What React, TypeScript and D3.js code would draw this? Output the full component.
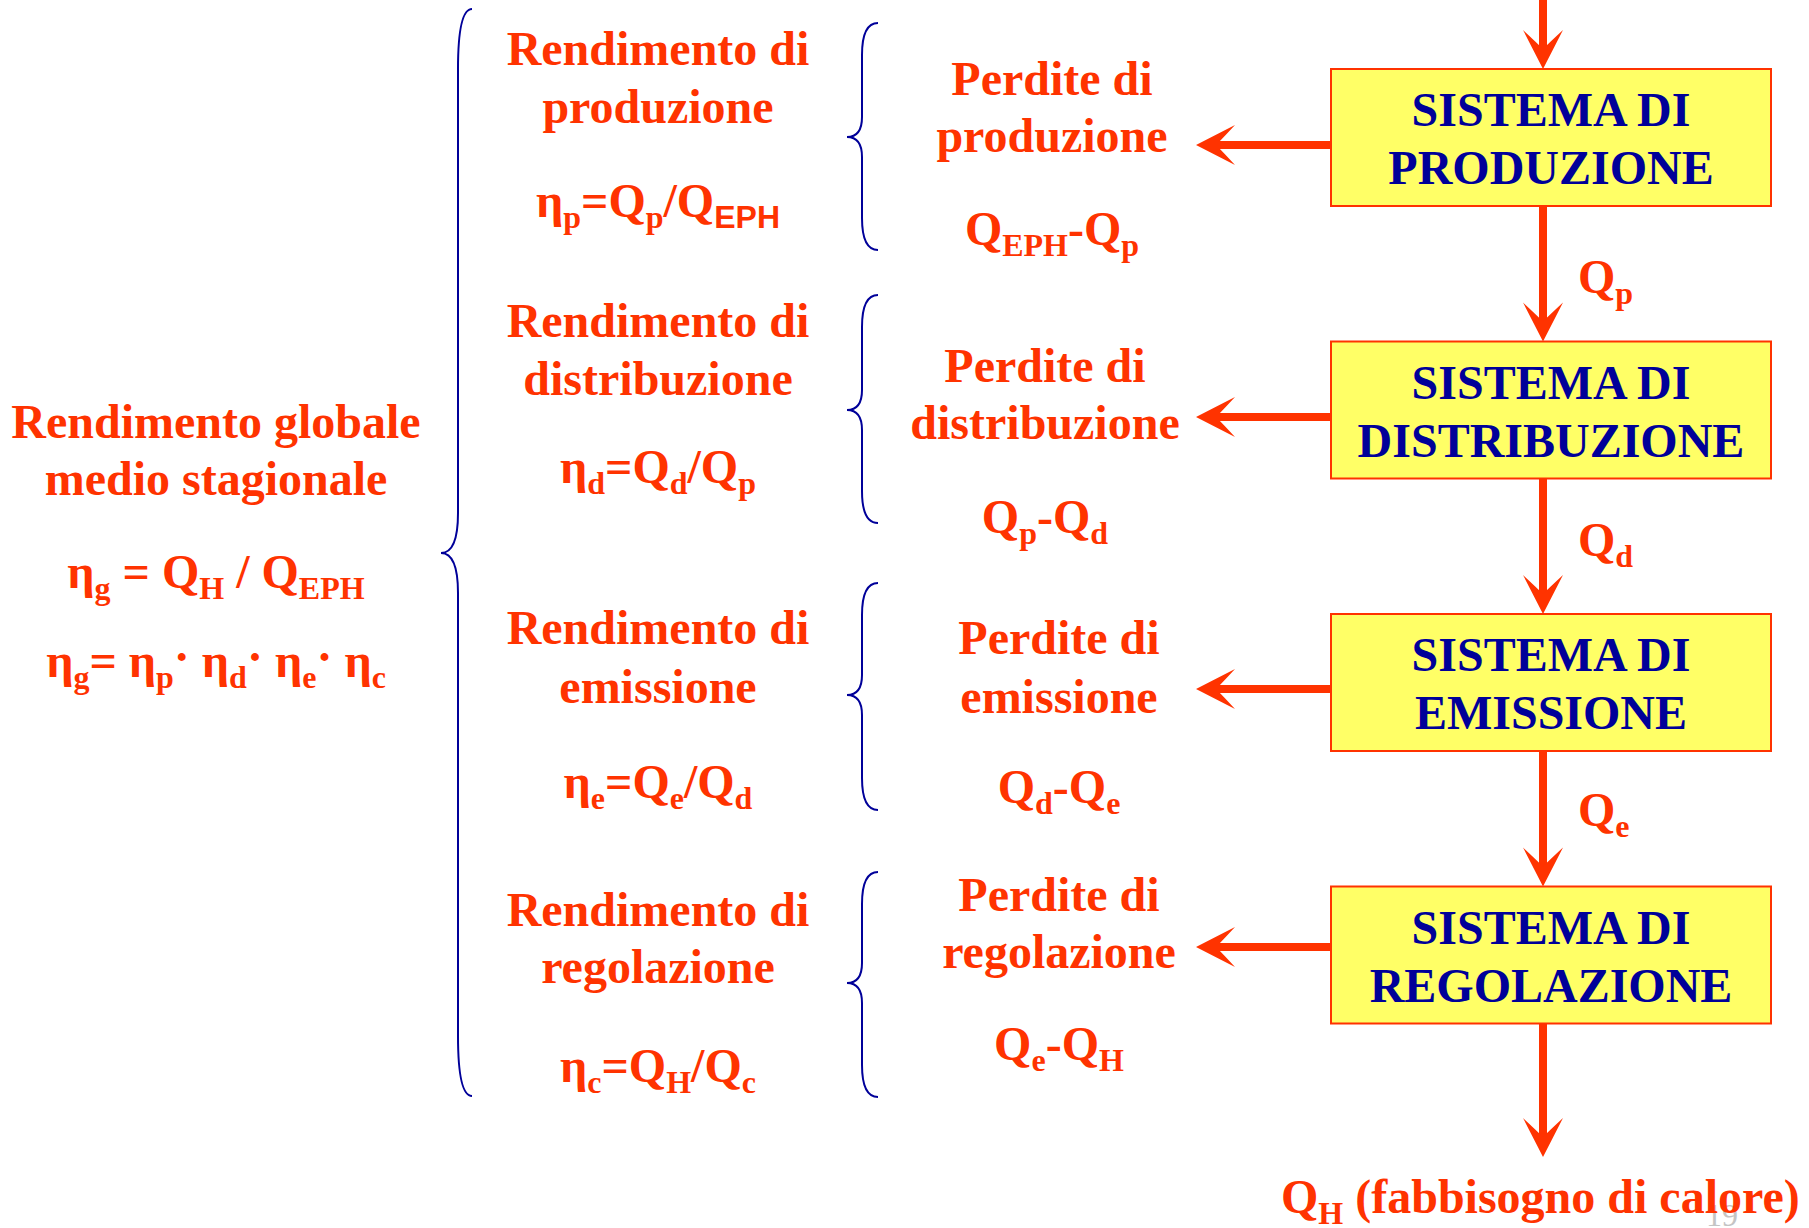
import React from "react";
import * as d3 from "d3";

// ---------- data ----------
const SYSTEM_PREFIX = "SISTEMA DI";
const SYSTEMS = ["PRODUZIONE", "DISTRIBUZIONE", "EMISSIONE", "REGOLAZIONE"];
const EFF_TITLE = "Rendimento di";
const EFF_NAMES = ["produzione", "distribuzione", "emissione", "regolazione"];
const LOSS_TITLE = "Perdite di";
const LOSS_NAMES = ["produzione", "distribuzione", "emissione", "regolazione"];
// segment kinds: n = normal, s = subscript, S = sans subscript, d = raised dot
const EFF_FORMULAS = [
  [["η", "n"], ["p", "s"], ["=Q", "n"], ["p", "s"], ["/Q", "n"], ["EPH", "S"]],
  [["η", "n"], ["d", "s"], ["=Q", "n"], ["d", "s"], ["/Q", "n"], ["p", "s"]],
  [["η", "n"], ["e", "s"], ["=Q", "n"], ["e", "s"], ["/Q", "n"], ["d", "s"]],
  [["η", "n"], ["c", "s"], ["=Q", "n"], ["H", "s"], ["/Q", "n"], ["c", "s"]],
];
const LOSS_FORMULAS = [
  [["Q", "n"], ["EPH", "s"], ["-Q", "n"], ["p", "s"]],
  [["Q", "n"], ["p", "s"], ["-Q", "n"], ["d", "s"]],
  [["Q", "n"], ["d", "s"], ["-Q", "n"], ["e", "s"]],
  [["Q", "n"], ["e", "s"], ["-Q", "n"], ["H", "s"]],
];
const FLOW_LABELS = [
  [["Q", "n"], ["p", "s"]],
  [["Q", "n"], ["d", "s"]],
  [["Q", "n"], ["e", "s"]],
];
const OUTPUT_LABEL = [["Q", "n"], ["H", "s"], [" (fabbisogno di calore)", "n"]];
const GLOBAL_TITLE = ["Rendimento globale", "medio stagionale"];
const GLOBAL_F1 = [["η", "n"], ["g", "s"], [" = Q", "n"], ["H", "s"], [" / Q", "n"], ["EPH", "s"]];
const GLOBAL_F2 = [
  ["η", "n"], ["g", "s"], ["= η", "n"], ["p", "s"], ["·", "d"],
  [" η", "n"], ["d", "s"], ["·", "d"], [" η", "n"], ["e", "s"], ["·", "d"],
  [" η", "n"], ["c", "s"],
];
const PAGE_NUMBER = "19";

// ---------- layout ----------
const W = 1809, H = 1228;
const RED = "#FF3300";
const NAVY = "#000099";
const YELLOW = "#FFFF66";
const SERIF = "'Liberation Serif','Times New Roman',serif";
const SANS = "'Liberation Sans',Arial,sans-serif";
const FS = 48;
const SUB_FS = 32;
const SUB_DY = 11;
const DOT_UP = 4;

const BOX_X0 = 1331, BOX_X1 = 1771, BOX_H = 137;
const SHAFT_X = 1543;
const boxTop = d3.scaleLinear().domain([0, 3]).range([69, 886.5]);
const ARROW_Y = [145, 417, 689, 947];
const LEFT_TIP_X = 1196;
const FLOW_X = 1578;
const FLOW_Y = [293, 556, 826];
const EFF_X = 658;
const EFF_Y = [[65, 123, 217], [337, 395, 483], [644, 703, 798], [926, 983, 1082]];
const LOSS_X = [1052, 1045, 1059, 1059];
const LOSS_Y = [[95, 152, 245], [382, 439, 533], [654, 713, 803], [911, 968, 1060]];
const BRACE_Y = [[23, 137, 250], [295, 410, 523], [583, 695, 810], [872, 983, 1097]];
const GLOBAL_X = 216;
const GLOBAL_Y = [438, 495, 588, 677];

function rich(segs: any[], size = FS) {
  let shift = 0;
  return segs.map(([t, k]: [string, string], i: number) => {
    const target = k === "s" || k === "S" ? SUB_DY : k === "d" ? -DOT_UP : 0;
    const dy = target - shift;
    shift = target;
    const sub = k === "s" || k === "S";
    return (
      <tspan
        key={i}
        dy={dy}
        fontSize={sub ? SUB_FS : size}
        fontFamily={k === "S" ? SANS : undefined}
      >
        {t}
      </tspan>
    );
  });
}

function bracePath(xEnd: number, xStem: number, xPoint: number, y0: number, ym: number, y1: number, rE: number, rM: number) {
  const p = d3.path();
  p.moveTo(xEnd, y0);
  p.quadraticCurveTo(xStem, y0, xStem, y0 + rE);
  p.lineTo(xStem, ym - rM);
  p.quadraticCurveTo(xStem, ym, xPoint, ym);
  p.quadraticCurveTo(xStem, ym, xStem, ym + rM);
  p.lineTo(xStem, y1 - rE);
  p.quadraticCurveTo(xStem, y1, xEnd, y1);
  return p.toString();
}

// arrow head pointing down with tip at (0,0)
function headPath() {
  const p = d3.path();
  p.moveTo(0, 0);
  p.lineTo(-20, -39);
  p.quadraticCurveTo(-7, -27, 0, -20);
  p.quadraticCurveTo(7, -27, 20, -39);
  p.closePath();
  return p.toString();
}
const HEAD = headPath();

export default function App() {
  const textStyle: any = { whiteSpace: "pre" };
  const vSegments: [number, number][] = [];
  vSegments.push([0, boxTop(0)]);
  for (let i = 0; i < 3; i++) vSegments.push([boxTop(i) + BOX_H, boxTop(i + 1)]);
  vSegments.push([boxTop(3) + BOX_H, 1157]);

  return (
    <svg
      width={W}
      height={H}
      style={{ position: "absolute", left: 0, top: 0, display: "block", background: "#fff" }}
      fontFamily={SERIF}
      fontWeight="bold"
    >
      {/* page number */}
      <text x={1722} y={1226} textAnchor="middle" fontSize={32} fontWeight="normal" fill="#c4c4c4">
        {PAGE_NUMBER}
      </text>

      {/* vertical flow shafts + heads */}
      {vSegments.map(([a, b], i) => (
        <g key={"v" + i}>
          <line x1={SHAFT_X} x2={SHAFT_X} y1={a} y2={b - 18} stroke={RED} strokeWidth={8} />
          <path d={HEAD} transform={`translate(${SHAFT_X},${b})`} fill={RED} />
        </g>
      ))}

      {/* loss arrows to the left */}
      {ARROW_Y.map((y, i) => (
        <g key={"h" + i}>
          <line x1={BOX_X0} x2={LEFT_TIP_X + 18} y1={y} y2={y} stroke={RED} strokeWidth={8} />
          <path d={HEAD} transform={`translate(${LEFT_TIP_X},${y}) rotate(90)`} fill={RED} />
        </g>
      ))}

      {/* system boxes */}
      {SYSTEMS.map((name, i) => {
        const y = boxTop(i);
        const cx = (BOX_X0 + BOX_X1) / 2;
        return (
          <g key={"b" + i}>
            <rect x={BOX_X0} y={y} width={BOX_X1 - BOX_X0} height={BOX_H} fill={YELLOW} stroke={RED} strokeWidth={2} />
            <text x={cx} y={y + 57} textAnchor="middle" fontSize={FS} fill={NAVY}>{SYSTEM_PREFIX}</text>
            <text x={cx} y={y + 115} textAnchor="middle" fontSize={FS} fill={NAVY}>{name}</text>
          </g>
        );
      })}

      {/* flow labels */}
      {FLOW_LABELS.map((segs, i) => (
        <text key={"f" + i} x={FLOW_X} y={FLOW_Y[i]} fontSize={FS} fill={RED} style={textStyle}>
          {rich(segs)}
        </text>
      ))}
      <text x={1281} y={1213} fontSize={FS} fill={RED} style={textStyle}>
        {rich(OUTPUT_LABEL)}
      </text>

      {/* efficiency column */}
      {EFF_NAMES.map((name, i) => (
        <g key={"e" + i} fill={RED}>
          <text x={EFF_X} y={EFF_Y[i][0]} textAnchor="middle" fontSize={FS}>{EFF_TITLE}</text>
          <text x={EFF_X} y={EFF_Y[i][1]} textAnchor="middle" fontSize={FS}>{name}</text>
          <text x={EFF_X} y={EFF_Y[i][2]} textAnchor="middle" fontSize={FS} style={textStyle}>
            {rich(EFF_FORMULAS[i])}
          </text>
        </g>
      ))}

      {/* loss column */}
      {LOSS_NAMES.map((name, i) => (
        <g key={"l" + i} fill={RED}>
          <text x={LOSS_X[i]} y={LOSS_Y[i][0]} textAnchor="middle" fontSize={FS}>{LOSS_TITLE}</text>
          <text x={LOSS_X[i]} y={LOSS_Y[i][1]} textAnchor="middle" fontSize={FS}>{name}</text>
          <text x={LOSS_X[i]} y={LOSS_Y[i][2]} textAnchor="middle" fontSize={FS} style={textStyle}>
            {rich(LOSS_FORMULAS[i])}
          </text>
        </g>
      ))}

      {/* small braces */}
      {BRACE_Y.map(([a, m, b], i) => (
        <path key={"br" + i} d={bracePath(878, 862, 847, a, m, b, 32, 20)} fill="none" stroke={NAVY} strokeWidth={2} />
      ))}

      {/* big brace */}
      <path d={bracePath(472, 458, 441, 9, 553, 1096, 60, 40)} fill="none" stroke={NAVY} strokeWidth={2} />

      {/* global efficiency */}
      <g fill={RED}>
        <text x={GLOBAL_X} y={GLOBAL_Y[0]} textAnchor="middle" fontSize={FS}>{GLOBAL_TITLE[0]}</text>
        <text x={GLOBAL_X} y={GLOBAL_Y[1]} textAnchor="middle" fontSize={FS}>{GLOBAL_TITLE[1]}</text>
        <text x={GLOBAL_X} y={GLOBAL_Y[2]} textAnchor="middle" fontSize={FS} style={textStyle}>{rich(GLOBAL_F1)}</text>
        <text x={GLOBAL_X} y={GLOBAL_Y[3]} textAnchor="middle" fontSize={FS} style={textStyle}>{rich(GLOBAL_F2)}</text>
      </g>
    </svg>
  );
}
